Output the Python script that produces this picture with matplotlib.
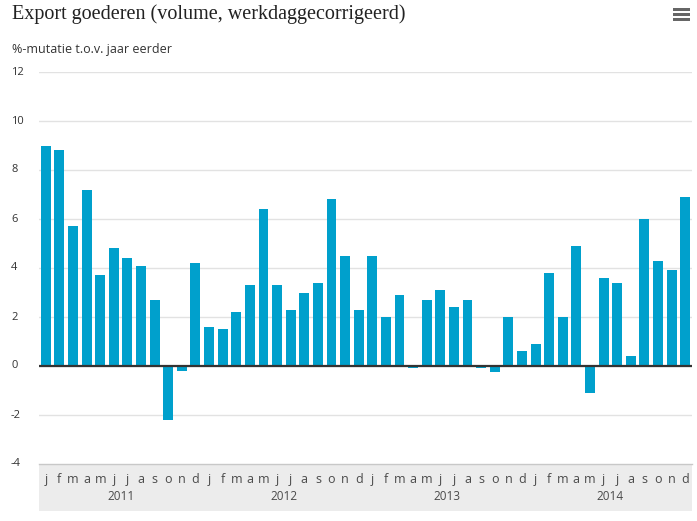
import matplotlib.pyplot as plt
from matplotlib.patches import Rectangle

# %-mutatie t.o.v. jaar eerder, per maand 2011-2014
months = ["j", "f", "m", "a", "m", "j", "j", "a", "s", "o", "n", "d"]
years = ["2011", "2012", "2013", "2014"]
values_2011 = [9.0, 8.8, 5.7, 7.2, 3.7, 4.8, 4.4, 4.1, 2.7, -2.2, -0.2, 4.2]
values_2012 = [1.6, 1.5, 2.2, 3.3, 6.4, 3.3, 2.3, 3.0, 3.4, 6.8, 4.5, 2.3]
values_2013 = [4.5, 2.0, 2.9, -0.1, 2.7, 3.1, 2.4, 2.7, -0.1, -0.25, 2.0, 0.6]
values_2014 = [0.9, 3.8, 2.0, 4.9, -1.1, 3.6, 3.4, 0.4, 6.0, 4.3, 3.9, 6.9]
yticks = [-4, -2, 0, 2, 4, 6, 8, 10, 12]

values = values_2011 + values_2012 + values_2013 + values_2014
x = list(range(len(values)))

W, H = 697, 521
fig = plt.figure(figsize=(W / 100, H / 100), dpi=100)

# plot area in pixels: x 39..692, y 72 (=12) .. 464 (=-4)
left, right, top, bottom = 39, 692, 72, 464
ax = fig.add_axes([left / W, 1 - bottom / H, (right - left) / W, (bottom - top) / H])

for yv in yticks[1:]:
    ax.axhline(yv, color="#e2e2e2", linewidth=1, zorder=0)

ax.bar(x, values, width=0.73, color="#00a0cc", zorder=2)
ax.axhline(0, color="#333333", linewidth=1.6, zorder=3)

ax.set_xlim(-0.5, len(values) - 0.5)
ax.set_ylim(-4, 12)
ax.axis("off")

# grey band with month/year labels
band = Rectangle((-0.5, -4), len(values), -16 * 47 / (bottom - top),
                 facecolor="#ececec", edgecolor="none", zorder=1, clip_on=False)
ax.add_patch(band)
ax.axhline(-4, color="#c8c8c8", linewidth=1, zorder=2, clip_on=False)

for i in x:
    ax.annotate(months[i % 12], (i, -4), xytext=(0, -6.5), textcoords="offset points",
                ha="center", va="top", fontsize=9, color="#4a4a4a",
                family="Open Sans", annotation_clip=False, zorder=5)
for k, yr in enumerate(years):
    ax.annotate(yr, (k * 12 + 5.5, -4), xytext=(0, -19), textcoords="offset points",
                ha="center", va="top", fontsize=8.5, color="#4a4a4a", family="Open Sans",
                annotation_clip=False, zorder=5)

# y tick labels, left aligned
for yv in yticks:
    ypix = bottom - (yv + 4) / 16 * (bottom - top)
    fig.text(11 / W, 1 - ypix / H, str(yv), ha="left", va="center",
             fontsize=8, color="#333333", family="Open Sans")

fig.text(12 / W, 1 - 14 / H, "Export goederen (volume, werkdaggecorrigeerd)",
         ha="left", va="center", fontsize=14.5, color="#222222", family="Liberation Serif")
fig.text(12 / W, 1 - 50 / H, "%-mutatie t.o.v. jaar eerder",
         ha="left", va="center", fontsize=9, color="#333333", family="Open Sans")

# menu icon
for yy in (9, 14, 19):
    fig.add_artist(Rectangle((673 / W, 1 - (yy + 2) / H), 17 / W, 2.5 / H,
                             transform=fig.transFigure, facecolor="#666666", edgecolor="none"))

fig.savefig("out.png", dpi=100)
